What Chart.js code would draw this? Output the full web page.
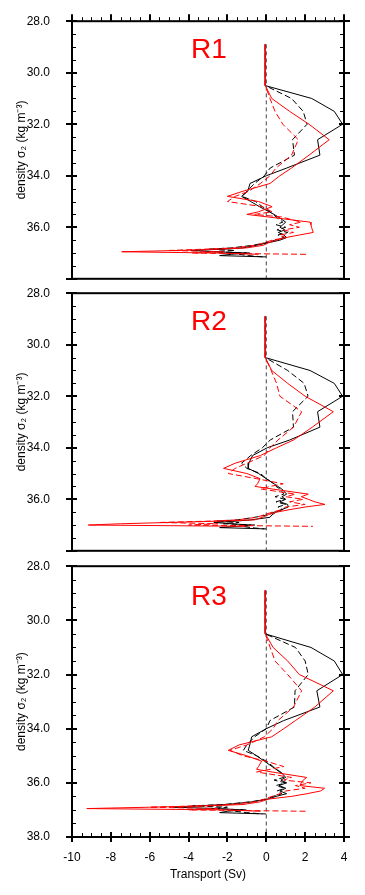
<!DOCTYPE html>
<html>
<head>
<meta charset="utf-8">
<script src="https://cdn.jsdelivr.net/npm/chart.js@4.4.0/dist/chart.umd.min.js"></script>
<style>
  html, body { margin: 0; padding: 0; background: #fff; }
  #wrap { position: relative; width: 365px; height: 895px; overflow: hidden; }
  canvas { position: absolute; left: 0; }
</style>
</head>
<body>
<div id="wrap">
  <canvas id="panel1" width="365" height="300" style="top:0px"></canvas>
  <canvas id="panel2" width="365" height="300" style="top:272px"></canvas>
  <canvas id="panel3" width="365" height="350" style="top:545px"></canvas>
</div>
<script>
// density levels shared by every profile (kg m-3)
const densityLevels = [28.9, 30.5, 31.0, 31.5, 32.0,
  32.6, 33.2, 33.7, 34.0, 34.3,
  34.6, 34.8, 35.0, 35.2, 35.4,
  35.5, 35.6, 35.8, 35.9, 36.0,
  36.1, 36.2, 36.3, 36.4, 36.5,
  36.6, 36.7, 36.8, 36.85, 36.9,
  36.95, 37.0, 37.05, 37.1, 37.15];

const panelNames = ["R1", "R2", "R3"];

// transport (Sv) for each panel
const r1BlackSolid = [-0.05, -0.05, 2.34, 3.5, 3.93,
  2.64, 2.76, 1.05, 0.0, -0.84,
  -0.95, -1.27, -0.8, -0.35, 0.15,
  0.4, 0.62, 1.0, 0.85, 0.7,
  0.96, 0.62, 0.9, 1.05, 0.7,
  0.1, -0.5, -1.2, -2.2, -3.9,
  -2.6, -1.0, -1.8, -2.4, 0.0];
const r1BlackDashed = [-0.05, -0.05, 1.3, 1.9, 2.1,
  1.35, 1.45, 0.2, -0.1, -0.6,
  -1.0, -1.25, -0.55, -0.2, 0.2,
  0.35, 0.5, 0.85, 0.5, 1.0,
  0.55, 1.1, 0.6, 0.9, 0.45,
  0.0, -0.7, -1.8, -3.0, -1.6,
  -2.8, -0.8, -1.4, -0.9, -0.2];
const r1RedSolid = [-0.05, -0.05, 0.28, 1.2, 2.2,
  3.24, 2.2, 1.3, 0.7, 0.19,
  -1.2, -2.0, -0.4, 0.3, -0.4,
  -1.0, 0.1, 2.25, 2.3, 2.33,
  2.37, 2.42, 1.7, 1.0, 0.5,
  0.1, -0.15, -1.0, -2.5, -4.5,
  -7.44, -2.5, -0.4, null, null];
const r1RedDashed = [-0.05, -0.05, 0.19, 0.45, 0.85,
  1.65, 1.3, 0.5, 0.19, -0.3,
  -0.9, -1.6, -2.0, -0.2, 0.3,
  -0.6, 0.8, 1.8, 1.2, 1.7,
  0.9, 1.4, 0.7, 1.0, 0.3,
  -0.1, -0.6, -1.6, -3.2, -5.0,
  -2.2, -3.8, 2.15, null, null];

const r2BlackSolid = [-0.05, -0.05, 2.25, 3.5, 3.93,
  2.64, 2.76, 1.2, 0.05, -0.7,
  -0.9, -0.93, -0.4, 0.0, 0.4,
  0.6, 0.8, 1.05, 0.8, 1.0,
  0.7, 1.1, 1.13, 0.8, 0.5,
  0.3, 0.19, -0.8, -1.6, -2.7,
  -1.8, -0.8, -1.5, -2.4, 0.0];
const r2BlackDashed = [-0.05, -0.05, 1.1, 1.95, 2.15,
  1.35, 1.4, 0.2, -0.2, -0.8,
  -1.27, -1.0, -0.3, 0.0, 0.4,
  0.5, 0.7, 0.9, 0.45, 0.95,
  0.5, 1.0, 0.6, 0.85, 0.4,
  0.1, -0.6, -1.5, -2.6, -1.4,
  -2.2, -0.6, -1.2, -0.8, -0.1];
const r2RedSolid = [-0.05, -0.05, 0.28, 1.1, 2.0,
  3.45, 2.37, 1.4, 0.53, -0.3,
  -1.6, -2.2, -1.0, -0.32, -0.45,
  -0.58, 0.3, 2.16, 1.8, 2.16,
  2.5, 3.02, 2.0, 1.22, 0.53,
  0.1, -0.2, -0.6, -2.5, -5.0,
  -7.5, -9.16, -1.0, null, null];
const r2RedDashed = [-0.05, -0.05, 0.25, 0.53, 0.7,
  1.82, 1.4, 0.6, 0.2, -0.1,
  -1.0, -1.6, -1.96, -0.5, 0.87,
  0.2, -0.3, 1.5, 1.0, 1.9,
  1.2, 2.0, 1.0, 0.8, 0.3,
  -0.1, -0.5, -1.5, -3.0, -5.5,
  -2.5, -4.0, 2.4, null, null];

const r3BlackSolid = [-0.05, -0.05, 2.3, 3.5, 3.93,
  2.6, 2.76, 0.9, 0.0, -0.75,
  -0.85, -0.93, -0.5, -0.1, 0.3,
  0.5, 0.75, 1.0, 0.75, 1.05,
  0.65, 1.0, 0.7, 1.05, 0.5,
  0.1, -0.7, -2.0, -3.5, -4.8,
  -2.5, -1.2, -2.0, -2.4, 0.0];
const r3BlackDashed = [-0.05, -0.05, 1.5, 2.0, 2.16,
  1.48, 1.45, 0.19, 0.0, -0.6,
  -1.0, -1.18, -0.5, 0.0, 0.35,
  0.5, 0.7, 0.9, 0.4, 1.0,
  0.5, 0.95, 0.55, 0.8, 0.35,
  0.0, -0.8, -2.2, -3.8, -2.0,
  -3.0, -1.0, -1.6, -1.0, -0.2];
const r3RedSolid = [-0.05, -0.05, 0.35, 1.1, 1.7,
  3.45, 2.5, 1.5, 0.9, 0.28,
  -1.4, -1.96, -1.0, -0.24, -0.4,
  -0.5, 0.3, 2.08, 1.9, 1.8,
  1.73, 3.0, 2.8, 2.1, 1.3,
  0.1, -0.3, -1.2, -3.0, -6.0,
  -9.24, -2.0, -0.3, null, null];
const r3RedDashed = [-0.05, -0.05, 0.2, 0.45, 1.1,
  1.82, 1.4, 0.6, 0.35, -0.1,
  -1.0, -1.87, -1.2, 0.0, 0.9,
  0.2, -0.5, 1.3, 0.9, 2.3,
  1.5, 2.0, 1.0, 0.7, 0.3,
  -0.1, -0.6, -1.8, -3.5, -6.0,
  -2.5, -4.0, 2.16, null, null];

// zero reference line
const zeroLineDensity = [28.9, 38.0];
const zeroLineTransport = [0, 0];

// axes
const xTickValues = [-10, -8, -6, -4, -2, 0, 2, 4];
const xMinorTicks = [-9.5, -9, -8.5, -7.5, -7, -6.5, -5.5, -5, -4.5, -3.5, -3, -2.5,
  -1.5, -1, -0.5, 0.5, 1, 1.5, 2.5, 3, 3.5];
const yTickValues = [28, 30, 32, 34, 36, 38];
const yMinorTicks = [28.5, 29, 29.5, 30.5, 31, 31.5, 32.5, 33, 33.5, 34.5, 35, 35.5,
  36.5, 37, 37.5];

// where the panel name sits (data units)
const labelTransport = -2.95;
const labelDensity = 29.43;

const FONT = '"Liberation Sans", Arial, Helvetica, sans-serif';
Chart.defaults.font.family = FONT;
Chart.defaults.color = '#000';

function toPoints(xs, ys) {
  let pts = [];
  for (let i = 0; i < ys.length; i++) {
    if (xs[i] !== null) pts.push({x: xs[i], y: ys[i]});
  }
  return pts;
}

// frame + NCL-like tick marks, placed with the chart's own scales
const frameTicks = {
  id: 'frameTicks',
  afterDraw(chart, args, opts) {
    const ctx = chart.ctx;
    const a = chart.chartArea;
    const x = chart.scales.x, y = chart.scales.y;
    ctx.save();
    ctx.strokeStyle = '#000';

    ctx.lineWidth = 1;
    ctx.beginPath();
    yMinorTicks.forEach(v => {
      let p = Math.round(y.getPixelForValue(v)) + 0.5;
      ctx.moveTo(a.left, p); ctx.lineTo(a.left + 4, p);
      ctx.moveTo(a.right, p); ctx.lineTo(a.right - 4, p);
    });
    if (opts.top) {
      xMinorTicks.forEach(v => {
        let p = Math.round(x.getPixelForValue(v)) + 0.5;
        ctx.moveTo(p, a.top); ctx.lineTo(p, a.top - 4);
      });
    }
    if (opts.bottom) {
      xMinorTicks.forEach(v => {
        let p = Math.round(x.getPixelForValue(v)) + 0.5;
        ctx.moveTo(p, a.bottom); ctx.lineTo(p, a.bottom - 4);
      });
    }
    ctx.stroke();

    ctx.lineWidth = 2;
    ctx.beginPath();
    yTickValues.forEach(v => {
      let p = Math.round(y.getPixelForValue(v));
      ctx.moveTo(a.left - 6, p); ctx.lineTo(a.left + 5, p);
      ctx.moveTo(a.right + 6, p); ctx.lineTo(a.right - 5, p);
    });
    if (opts.top) {
      xTickValues.forEach(v => {
        let p = Math.round(x.getPixelForValue(v));
        ctx.moveTo(p, a.top); ctx.lineTo(p, a.top - 7);
      });
    }
    if (opts.bottom) {
      xTickValues.forEach(v => {
        let p = Math.round(x.getPixelForValue(v));
        ctx.moveTo(p, a.bottom - 5); ctx.lineTo(p, a.bottom + 5);
      });
    }
    ctx.stroke();

    ctx.strokeRect(a.left, a.top, a.right - a.left, a.bottom - a.top);
    ctx.restore();
  }
};

const panelLabel = {
  id: 'panelLabel',
  afterDatasetsDraw(chart, args, opts) {
    const ctx = chart.ctx;
    ctx.save();
    ctx.fillStyle = '#ff0000';
    ctx.font = '28px ' + FONT;
    ctx.textAlign = 'center';
    ctx.textBaseline = 'alphabetic';
    ctx.fillText(opts.text,
      chart.scales.x.getPixelForValue(labelTransport),
      chart.scales.y.getPixelForValue(labelDensity));
    ctx.restore();
  }
};

function buildPanel(canvasId, idx, blackSolid, blackDashed, redSolid, redDashed) {
  let isTop = idx === 0;
  let isBottom = idx === 2;
  let line = (color, dash, pts) => ({
    data: pts, showLine: true, borderColor: color, borderWidth: 1,
    borderDash: dash, pointRadius: 0, fill: false, tension: 0
  });

  return new Chart(document.getElementById(canvasId), {
    type: 'scatter',
    data: {
      datasets: [
        line('#ff0000', [], toPoints(redSolid, densityLevels)),
        line('#ff0000', [6, 3], toPoints(redDashed, densityLevels)),
        line('#000000', [], toPoints(blackSolid, densityLevels)),
        line('#000000', [6, 3], toPoints(blackDashed, densityLevels)),
        line('#444444', [4, 3], toPoints(zeroLineTransport, zeroLineDensity))
      ]
    },
    options: {
      responsive: false,
      animation: false,
      events: [],
      layout: { padding: { top: 20, right: 21, bottom: 8, left: 0 } },
      plugins: {
        legend: { display: false },
        tooltip: { enabled: false },
        frameTicks: { top: isTop, bottom: isBottom },
        panelLabel: { text: panelNames[idx] }
      },
      scales: {
        x: {
          type: 'linear',
          min: -10, max: 4,
          display: isBottom,
          afterBuildTicks: s => { s.ticks = xTickValues.map(v => ({value: v})); },
          afterFit: s => { if (isBottom) s.height = 50; },
          grid: { display: false },
          border: { display: false },
          ticks: { padding: 5, maxRotation: 0, font: { size: 12 }, color: '#000',
                   callback: v => String(v) },
          title: { display: true, text: 'Transport (Sv)', color: '#000',
                   font: { size: 12 }, padding: { top: 0, bottom: 5 } }
        },
        y: {
          type: 'linear',
          reverse: true,
          min: 28, max: 38,
          afterBuildTicks: s => {
            let vals = isBottom ? yTickValues : yTickValues.slice(0, -1);
            s.ticks = vals.map(v => ({value: v}));
          },
          afterFit: s => { s.width = 72; },
          grid: { display: false },
          border: { display: false },
          ticks: { padding: 14, font: { size: 12 }, color: '#000',
                   callback: v => v.toFixed(1) },
          title: { display: true, text: 'density σ₂ (kg m⁻³)', color: '#000',
                   font: { size: 12 }, padding: { top: 14, bottom: 0 } }
        }
      }
    },
    plugins: [frameTicks, panelLabel]
  });
}

buildPanel('panel1', 0, r1BlackSolid, r1BlackDashed, r1RedSolid, r1RedDashed);
buildPanel('panel2', 1, r2BlackSolid, r2BlackDashed, r2RedSolid, r2RedDashed);
buildPanel('panel3', 2, r3BlackSolid, r3BlackDashed, r3RedSolid, r3RedDashed);
</script>
</body>
</html>
